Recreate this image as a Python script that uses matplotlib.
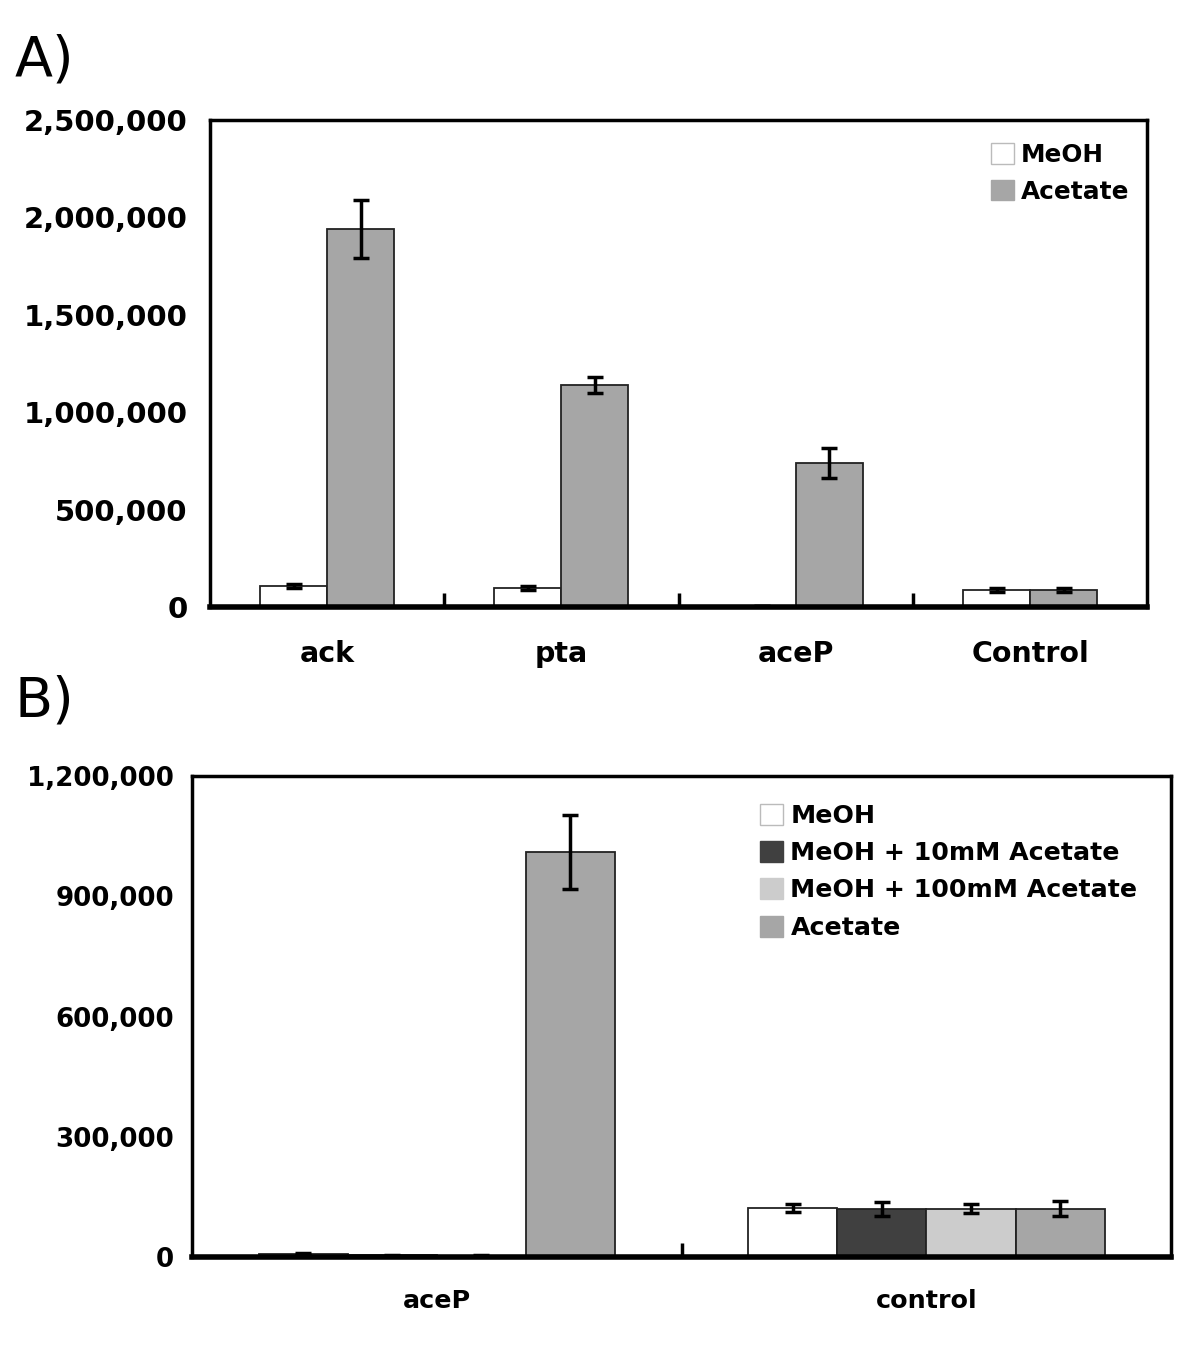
import numpy as np
import matplotlib
matplotlib.use("Agg")
import matplotlib.pyplot as plt
from matplotlib.patches import Patch
from matplotlib.ticker import FuncFormatter

# Panel A data
cats_a = ["ack", "pta", "aceP", "Control"]
meoh_a = [108000, 97000, 5000, 87000]
meoh_a_err = [9000, 9000, 1000, 9000]
acet_a = [1940000, 1140000, 740000, 87000]
acet_a_err = [150000, 40000, 75000, 10000]
yticks_a = [0, 500000, 1000000, 1500000, 2000000, 2500000]

# Panel B data
cats_b = ["aceP", "control"]
series_b = ["MeOH", "MeOH + 10mM Acetate", "MeOH + 100mM Acetate", "Acetate"]
vals_b = [[7000, 122000], [4000, 120000], [3000, 121000], [1010000, 121000]]
errs_b = [[3000, 10000], [2000, 17000], [2000, 12000], [93000, 19000]]
yticks_b = [0, 300000, 600000, 900000, 1200000]
colors_b = ["#ffffff", "#404040", "#cccccc", "#a6a6a6"]

comma = FuncFormatter(lambda v, p: f"{int(v):,}")
err_kw = dict(ecolor="black", elinewidth=2.5, capsize=6, capthick=2.5)

fig = plt.figure(figsize=(12, 13.55), dpi=100)

# ---- panel A ----
ax1 = fig.add_axes([0.175, 0.552, 0.781, 0.3594])
x = np.arange(len(cats_a)) + 0.5
w = 0.286
ax1.bar(x - w / 2, meoh_a, w, color="white", edgecolor="#222222", linewidth=1.3,
        yerr=meoh_a_err, error_kw=err_kw)
ax1.bar(x + w / 2, acet_a, w, color="#a6a6a6", edgecolor="#222222", linewidth=1.3,
        yerr=acet_a_err, error_kw=err_kw)
ax1.set_xlim(0, 4)
ax1.set_ylim(0, 2500000)
ax1.set_yticks(yticks_a)
ax1.yaxis.set_major_formatter(comma)
ax1.set_xticks([1, 2, 3])
ax1.set_xticklabels([])
ax1.set_xticks(x, minor=True)
ax1.set_xticklabels(cats_a, minor=True, fontsize=20.5, fontweight="bold")
ax1.tick_params(axis="x", which="major", direction="in", length=10, width=2.5)
ax1.tick_params(axis="x", which="minor", length=0, pad=24)
ax1.tick_params(axis="y", length=0, pad=16, labelsize=21)
for lab in ax1.get_yticklabels():
    lab.set_fontweight("bold")
for s in ax1.spines.values():
    s.set_linewidth(2.5)
ax1.spines["bottom"].set_linewidth(4)
ax1.legend(handles=[Patch(facecolor="white", edgecolor="#bbbbbb", label="MeOH"),
                    Patch(facecolor="#a6a6a6", edgecolor="#a6a6a6", label="Acetate")],
           loc="upper left", bbox_to_anchor=(0.81, 0.998), frameon=False,
           handlelength=0.9, handleheight=0.9, handletextpad=0.3,
           labelspacing=0.5, prop=dict(size=17.8, weight="bold"))
fig.text(0.012, 0.955, "A)", fontsize=40, ha="left", va="center")

# ---- panel B ----
ax2 = fig.add_axes([0.16, 0.0723, 0.816, 0.355])
xb = np.arange(len(cats_b)) + 0.5
wb = 0.182
for i, name in enumerate(series_b):
    ax2.bar(xb + (i - 1.5) * wb, vals_b[i], wb, color=colors_b[i],
            edgecolor="#222222", linewidth=1.3, yerr=errs_b[i], error_kw=err_kw,
            label=name)
ax2.set_xlim(0, 2)
ax2.set_ylim(0, 1200000)
ax2.set_yticks(yticks_b)
ax2.yaxis.set_major_formatter(comma)
ax2.set_xticks([1])
ax2.set_xticklabels([])
ax2.set_xticks(xb, minor=True)
ax2.set_xticklabels(cats_b, minor=True, fontsize=18.3, fontweight="bold")
ax2.tick_params(axis="x", which="major", direction="in", length=10, width=2.5)
ax2.tick_params(axis="x", which="minor", length=0, pad=23)
ax2.tick_params(axis="y", length=0, pad=13, labelsize=18.8)
for lab in ax2.get_yticklabels():
    lab.set_fontweight("bold")
for s in ax2.spines.values():
    s.set_linewidth(2.5)
ax2.spines["bottom"].set_linewidth(4)
handles_b = [Patch(facecolor=c, edgecolor=("#bbbbbb" if c == "#ffffff" else c), label=n)
             for c, n in zip(colors_b, series_b)]
ax2.legend(handles=handles_b, loc="upper left", bbox_to_anchor=(0.557, 0.99),
           frameon=False, handlelength=0.9, handleheight=0.9, handletextpad=0.3,
           labelspacing=0.52, prop=dict(size=18.2, weight="bold"))
fig.text(0.012, 0.482, "B)", fontsize=40, ha="left", va="center")

fig.savefig("out.png", dpi=100)
